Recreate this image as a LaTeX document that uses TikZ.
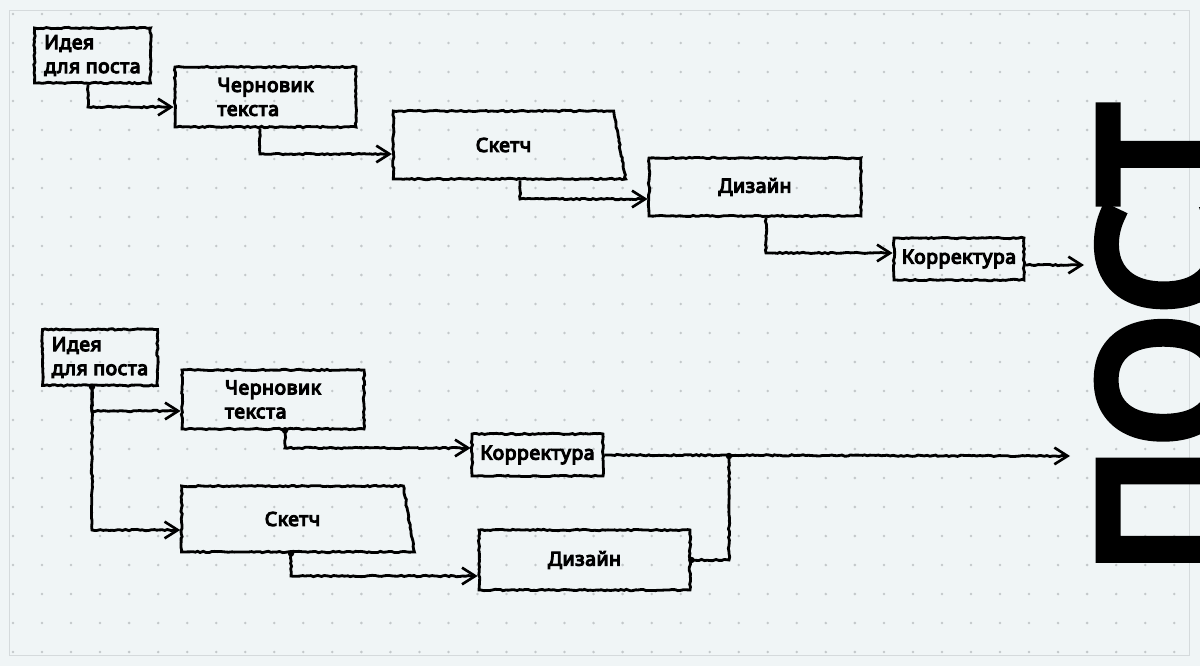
\documentclass[tikz,border=0pt]{standalone}
\usepackage{fontspec}
\setmainfont{Noto Sans}[AutoFakeBold=6]
\newfontfamily\postfont{Noto Sans}[FakeBold=6.5]
\usetikzlibrary{arrows.meta,shapes.geometric,decorations.pathmorphing}

\definecolor{paper}{HTML}{F0F5F6}
\definecolor{griddot}{HTML}{C3C8CA}
\definecolor{frameline}{HTML}{D5DADC}

\tikzset{
  rough/.style={decorate,decoration={random steps,segment length=1.6pt,amplitude=0.4pt,pre length=1pt,post length=3pt}},
  box/.style={draw=black,line width=1.6pt,rough,inner sep=0pt,font=\fontsize{11}{13.6}\selectfont\bfseries\addfontfeatures{LetterSpace=3}},
  sketchbox/.style={box,trapezium,trapezium left angle=90,trapezium stretches=true},
  link/.style={line width=1.6pt,rough,-{Straight Barb[length=7.5pt,width=9.5pt,line width=1.5pt]}},
  wire/.style={line width=1.6pt,rough},
  joint/.style={circle,fill=black,inner sep=0pt,minimum size=0.13cm},
  posttext/.style={rotate=90,anchor=north,inner sep=0pt,font=\fontsize{99}{99}\selectfont\postfont}
}

\begin{document}
\begin{tikzpicture}[x=0.02cm,y=-0.02cm]
    \pgfmathsetseed{7}
    \useasboundingbox (0,0) rectangle (1200,666);
    \clip (0,0) rectangle (1200,666);
    \fill[paper] (0,0) rectangle (1200,666);
    \foreach \i in {0,...,40}
      \foreach \j in {0,...,22}
        \fill[griddot] (13+29.03*\i,14+29*\j) circle (0.028cm);
    \draw[frameline,line width=0.5pt] (9,10) rectangle (1189,655);

    \node[posttext] (post) at (1099,340) {ПОСТ};

    % first chain
    \node[box,minimum width=2.32cm,minimum height=1.1cm,align=left] (ideaA) at (92.5,55.5) {Идея\\для поста};
    \node[box,minimum width=3.62cm,minimum height=1.2cm,align=left] (draftA) at (265.5,97) {Черновик\\текста};
    \node[sketchbox,trapezium right angle=78,minimum width=4.66cm,minimum height=1.36cm] (sketchA) at (503.5,145) {Скетч};
    \node[box,minimum width=4.24cm,minimum height=1.16cm] (designA) at (755,187) {Дизайн};
    \node[box,minimum width=2.6cm,minimum height=0.84cm] (korrA) at (959,259) {Корректура};
    \coordinate (postA) at (1084,265);

    \draw[link] ([xshift=-0.09cm]ideaA.south) |- ([yshift=-0.2cm]draftA.west);
    \draw[link] ([xshift=-0.11cm]draftA.south) |- ([yshift=-0.18cm]sketchA.west);
    \draw[link] ([xshift=0.33cm]sketchA.south) |- ([yshift=-0.24cm]designA.west);
    \draw[link] ([xshift=0.22cm]designA.south) |- ([yshift=0.12cm]korrA.west);
    \draw[link] ([yshift=-0.12cm]korrA.east) -- (postA);

    % second chain
    \node[box,minimum width=2.3cm,minimum height=1.12cm,align=left] (ideaB) at (100,357.5) {Идея\\для поста};
    \node[box,minimum width=3.64cm,minimum height=1.18cm,align=left] (draftB) at (273,399.5) {Черновик\\текста};
    \node[box,minimum width=2.62cm,minimum height=0.84cm] (korrB) at (537.5,455) {Корректура};
    \node[sketchbox,trapezium right angle=79,minimum width=4.66cm,minimum height=1.32cm] (sketchB) at (292.5,519) {Скетч};
    \node[box,minimum width=4.22cm,minimum height=1.2cm] (designB) at (584.5,560) {Дизайн};
    \coordinate (mergeB) at (729,456);
    \coordinate (postB) at (1070,456);

    \draw[link] ([xshift=-0.16cm]ideaB.south) |- ([yshift=-0.23cm]draftB.west);
    \draw[link] ([xshift=-0.16cm]ideaB.south) |- ([yshift=-0.22cm]sketchB.west);
    \draw[link] ([xshift=0.24cm]draftB.south) |- ([yshift=0.14cm]korrB.west);
    \draw[link] ([xshift=-0.03cm]sketchB.south) |- ([yshift=-0.32cm]designB.west);
    \draw[wire] (designB.east) -| (mergeB);
    \draw[link] (korrB.east) -- (postB);

    \node[joint] at ([xshift=-0.16cm]ideaB.south) {};
    \node[joint] at ([xshift=0.24cm]draftB.south) {};
    \node[joint] at ([xshift=-0.03cm]sketchB.south) {};
    \node[joint] at (designB.east) {};
    \node[joint] at (mergeB) {};
\end{tikzpicture}
\end{document}
